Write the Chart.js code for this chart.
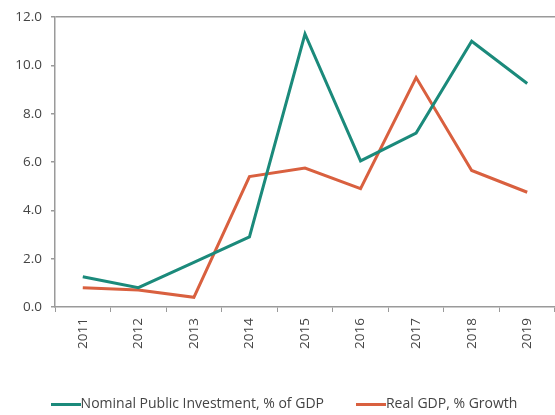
<!DOCTYPE html>
<html>
<head>
<meta charset="utf-8">
<script src="https://cdn.jsdelivr.net/npm/chart.js@4/dist/chart.umd.min.js"></script>
<style>
  html, body { margin: 0; padding: 0; background: #fff; }
  #wrap { width: 555px; height: 415px; }
</style>
</head>
<body>
<div id="wrap"><canvas id="chart"></canvas></div>
<script>
const years = ['2011', '2012', '2013', '2014', '2015', '2016', '2017', '2018', '2019'];
const publicInvestment = [1.25, 0.8, 1.85, 2.9, 11.3, 6.05, 7.2, 11.0, 9.25];
const realGdpGrowth = [0.8, 0.7, 0.4, 5.4, 5.75, 4.9, 9.5, 5.65, 4.75];
const yTicks = [0, 2, 4, 6, 8, 10, 12];

const GREEN = '#1b8a7b';
const RED = '#d9603f';
const AXIS = '#9a9a9a';
const TEXT = '#444';

Chart.defaults.font.family = '"Open Sans", "Noto Sans", sans-serif';
Chart.defaults.color = TEXT;

// legend swatch: a flat 30px bar that runs right up to the label text
function swatch(color) {
  const c = document.createElement('canvas');
  c.width = 30;
  c.height = 3;
  const g = c.getContext('2d');
  g.fillStyle = color;
  g.fillRect(0, 0, 30, 3);
  return c;
}

// nudge the legend row a little to the right of the canvas centre
const legendShift = {
  id: 'legendShift',
  afterLayout(chart) {
    chart.legend.left += 10;
    chart.legend.right += 10;
  }
};

new Chart(document.getElementById('chart'), {
  type: 'line',
  data: {
    labels: years,
    datasets: [
      {
        label: 'Nominal Public Investment, % of GDP',
        data: publicInvestment,
        borderColor: GREEN,
        backgroundColor: GREEN,
        borderWidth: 3,
        pointRadius: 0,
        pointStyle: swatch(GREEN),
        tension: 0
      },
      {
        label: 'Real GDP, % Growth',
        data: realGdpGrowth,
        borderColor: RED,
        backgroundColor: RED,
        borderWidth: 3,
        pointRadius: 0,
        pointStyle: swatch(RED),
        tension: 0
      }
    ]
  },
  plugins: [legendShift],
  options: {
    responsive: true,
    maintainAspectRatio: false,
    animation: false,
    layout: { padding: { top: 7, right: 0, left: 0, bottom: -6 } },
    plugins: {
      tooltip: { enabled: false },
      legend: {
        position: 'bottom',
        labels: {
          usePointStyle: true,
          pointStyleWidth: 16,
          padding: 39,
          color: TEXT,
          font: { size: 14 }
        }
      }
    },
    scales: {
      x: {
        offset: true,
        grid: {
          display: true,
          drawOnChartArea: false,
          offset: true,
          color: AXIS,
          tickLength: 5
        },
        border: { color: AXIS, width: 1.5 },
        ticks: {
          maxRotation: 90,
          minRotation: 90,
          padding: 6,
          color: TEXT,
          font: { size: 13.5 }
        },
        afterFit: scale => { scale.height = 51; }
      },
      y: {
        min: 0,
        max: 12,
        afterBuildTicks: scale => { scale.ticks = yTicks.map(v => ({ value: v })); },
        grid: {
          drawOnChartArea: true,
          color: ctx => ctx.tick && ctx.tick.value === 12 ? AXIS : 'rgba(0,0,0,0)',
          lineWidth: 1.5,
          tickColor: AXIS,
          tickLength: 4
        },
        border: { color: AXIS, width: 1.5 },
        ticks: {
          padding: 9,
          color: TEXT,
          font: { size: 13.5 },
          callback: v => v.toFixed(1)
        },
        afterFit: scale => { scale.width = 55; }
      }
    }
  }
});
</script>
</body>
</html>
